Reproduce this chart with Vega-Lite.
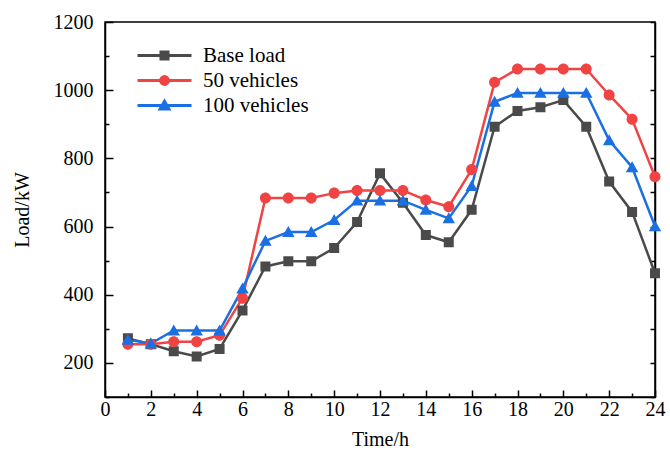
{
  "$schema": "https://vega.github.io/schema/vega-lite/v6.json",
  "width": 550,
  "height": 375,
  "autosize": {"type": "none"},
  "padding": {"left": 105, "top": 22, "right": 15, "bottom": 53},
  "background": "white",
  "config": {
    "font": "Liberation Serif",
    "view": {"stroke": "black", "strokeWidth": 1.5},
    "axis": {
      "domainColor": "black", "domainWidth": 1.5,
      "tickColor": "black", "tickWidth": 1.5,
      "grid": false,
      "labelFont": "Liberation Serif", "labelFontSize": 20, "labelColor": "black",
      "titleFont": "Liberation Serif", "titleFontSize": 20, "titleFontWeight": "normal", "titleColor": "black",
      "labelFlush": false, "labelOverlap": false
    }
  },
  "data": {
    "values": [
      {"t": 1, "series": "Base load", "load": 272}, {"t": 2, "series": "Base load", "load": 255}, {"t": 3, "series": "Base load", "load": 234}, {"t": 4, "series": "Base load", "load": 219}, {"t": 5, "series": "Base load", "load": 241}, {"t": 6, "series": "Base load", "load": 354}, {"t": 7, "series": "Base load", "load": 483}, {"t": 8, "series": "Base load", "load": 498}, {"t": 9, "series": "Base load", "load": 498}, {"t": 10, "series": "Base load", "load": 537}, {"t": 11, "series": "Base load", "load": 613}, {"t": 12, "series": "Base load", "load": 756}, {"t": 13, "series": "Base load", "load": 670}, {"t": 14, "series": "Base load", "load": 575}, {"t": 15, "series": "Base load", "load": 554}, {"t": 16, "series": "Base load", "load": 649}, {"t": 17, "series": "Base load", "load": 893}, {"t": 18, "series": "Base load", "load": 939}, {"t": 19, "series": "Base load", "load": 950}, {"t": 20, "series": "Base load", "load": 971}, {"t": 21, "series": "Base load", "load": 893}, {"t": 22, "series": "Base load", "load": 732}, {"t": 23, "series": "Base load", "load": 643}, {"t": 24, "series": "Base load", "load": 463},
      {"t": 1, "series": "50 vehicles", "load": 255}, {"t": 2, "series": "50 vehicles", "load": 255}, {"t": 3, "series": "50 vehicles", "load": 262}, {"t": 4, "series": "50 vehicles", "load": 262}, {"t": 5, "series": "50 vehicles", "load": 281}, {"t": 6, "series": "50 vehicles", "load": 390}, {"t": 7, "series": "50 vehicles", "load": 684}, {"t": 8, "series": "50 vehicles", "load": 684}, {"t": 9, "series": "50 vehicles", "load": 684}, {"t": 10, "series": "50 vehicles", "load": 698}, {"t": 11, "series": "50 vehicles", "load": 706}, {"t": 12, "series": "50 vehicles", "load": 706}, {"t": 13, "series": "50 vehicles", "load": 706}, {"t": 14, "series": "50 vehicles", "load": 678}, {"t": 15, "series": "50 vehicles", "load": 658}, {"t": 16, "series": "50 vehicles", "load": 767}, {"t": 17, "series": "50 vehicles", "load": 1023}, {"t": 18, "series": "50 vehicles", "load": 1062}, {"t": 19, "series": "50 vehicles", "load": 1062}, {"t": 20, "series": "50 vehicles", "load": 1062}, {"t": 21, "series": "50 vehicles", "load": 1062}, {"t": 22, "series": "50 vehicles", "load": 986}, {"t": 23, "series": "50 vehicles", "load": 915}, {"t": 24, "series": "50 vehicles", "load": 746},
      {"t": 1, "series": "100 vehicles", "load": 268}, {"t": 2, "series": "100 vehicles", "load": 257}, {"t": 3, "series": "100 vehicles", "load": 295}, {"t": 4, "series": "100 vehicles", "load": 295}, {"t": 5, "series": "100 vehicles", "load": 295}, {"t": 6, "series": "100 vehicles", "load": 418}, {"t": 7, "series": "100 vehicles", "load": 558}, {"t": 8, "series": "100 vehicles", "load": 584}, {"t": 9, "series": "100 vehicles", "load": 584}, {"t": 10, "series": "100 vehicles", "load": 619}, {"t": 11, "series": "100 vehicles", "load": 676}, {"t": 12, "series": "100 vehicles", "load": 676}, {"t": 13, "series": "100 vehicles", "load": 676}, {"t": 14, "series": "100 vehicles", "load": 649}, {"t": 15, "series": "100 vehicles", "load": 624}, {"t": 16, "series": "100 vehicles", "load": 719}, {"t": 17, "series": "100 vehicles", "load": 966}, {"t": 18, "series": "100 vehicles", "load": 992}, {"t": 19, "series": "100 vehicles", "load": 992}, {"t": 20, "series": "100 vehicles", "load": 992}, {"t": 21, "series": "100 vehicles", "load": 992}, {"t": 22, "series": "100 vehicles", "load": 853}, {"t": 23, "series": "100 vehicles", "load": 774}, {"t": 24, "series": "100 vehicles", "load": 601}
    ]
  },
  "layer": [
    {
      "mark": {"type": "line", "strokeWidth": 2.5},
      "encoding": {
        "x": {
          "field": "t", "type": "quantitative",
          "scale": {"domain": [0, 24], "nice": false, "zero": false},
          "axis": {
            "orient": "bottom", "title": "Time/h",
            "values": [0,1,2,3,4,5,6,7,8,9,10,11,12,13,14,15,16,17,18,19,20,21,22,23,24],
            "labelExpr": "datum.value % 2 == 0 ? datum.label : ''",
            "tickSize": {"condition": {"test": "datum.value % 2 == 0", "value": -7}, "value": -4},
            "labelPadding": 9, "titlePadding": 7
          }
        },
        "y": {
          "field": "load", "type": "quantitative",
          "scale": {"domain": [100, 1200], "nice": false, "zero": false},
          "axis": {
            "orient": "left", "title": "Load/kW", "format": "d",
            "values": [100,200,300,400,500,600,700,800,900,1000,1100,1200],
            "labelExpr": "datum.value % 200 == 0 ? datum.label : ''",
            "tickSize": {"condition": {"test": "datum.value % 200 == 0", "value": -8}, "value": -4},
            "labelPadding": 20, "titlePadding": 21
          }
        },
        "color": {
          "field": "series", "type": "nominal",
          "scale": {"domain": ["100 vehicles", "50 vehicles", "Base load"], "range": ["#1a6fe3", "#f04343", "#4a4a4a"]},
          "legend": null
        }
      }
    },
    {
      "mark": {"type": "point", "filled": true, "opacity": 1, "size": 200},
      "encoding": {
        "x": {"field": "t", "type": "quantitative", "axis": null},
        "y": {
          "field": "load", "type": "quantitative",
          "axis": {
            "orient": "right", "title": null, "labels": false,
            "values": [100,200,300,400,500,600,700,800,900,1000,1100,1200],
            "tickSize": -5
          }
        },
        "strokeWidth": {"value": 0},
        "fill": {
          "field": "series", "type": "nominal",
          "scale": {"domain": ["Base load", "50 vehicles", "100 vehicles"], "range": ["#4a4a4a", "#f04343", "#1a6fe3"]},
          "legend": {
            "title": null, "orient": "none", "legendX": 49, "legendY": 23,
            "labelFont": "Liberation Serif", "labelFontSize": 21, "labelColor": "black",
            "symbolSize": 100, "symbolStrokeWidth": 3, "labelOffset": 28, "rowPadding": 3, "padding": 0
          }
        },
        "stroke": {
          "field": "series", "type": "nominal",
          "scale": {"domain": ["Base load", "50 vehicles", "100 vehicles"], "range": ["#4a4a4a", "#f04343", "#1a6fe3"]},
          "legend": {
            "title": null, "orient": "none", "legendX": 49, "legendY": 23,
            "labelFont": "Liberation Serif", "labelFontSize": 21, "labelColor": "black",
            "symbolSize": 100, "symbolStrokeWidth": 3, "labelOffset": 28, "rowPadding": 3, "padding": 0
          }
        },
        "shape": {
          "field": "series", "type": "nominal",
          "scale": {
            "domain": ["Base load", "50 vehicles", "100 vehicles"],
            "range": [
              "M-5.4,0H5.4M-0.707,-0.707H0.707V0.707H-0.707Z",
              "M-5.4,0H5.4M0.78,0A0.78,0.78,0,1,1,-0.78,0A0.78,0.78,0,1,1,0.78,0Z",
              "M-5.4,0H5.4M0,-0.85L0.88,0.7H-0.88Z"
            ]
          },
          "legend": {
            "title": null, "orient": "none", "legendX": 49, "legendY": 23,
            "labelFont": "Liberation Serif", "labelFontSize": 21, "labelColor": "black",
            "symbolSize": 100, "symbolStrokeWidth": 3, "labelOffset": 28, "rowPadding": 3, "padding": 0
          }
        }
      }
    }
  ],
  "resolve": {
    "axis": {"x": "independent", "y": "independent"}
  }
}
